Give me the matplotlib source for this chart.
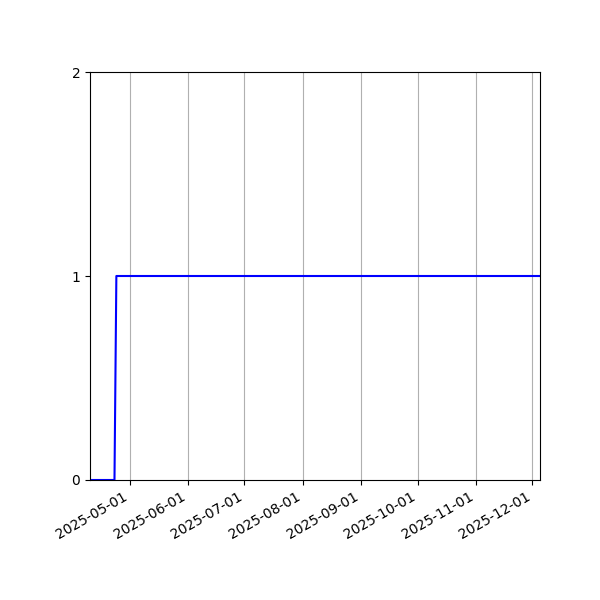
import matplotlib
matplotlib.use("Agg")
import matplotlib.pyplot as plt
import matplotlib.dates as mdates
import numpy as np

# valeurs
dates = np.array(["2025-04-10", "2025-04-23", "2025-04-24", "2025-12-05"], dtype="datetime64[D]")
values = [0, 0, 1, 1]
yticks = [0, 1, 2]

fig, ax = plt.subplots(figsize=(6, 6), dpi=100)
ax.plot(dates, values, color="blue", lw=1.5)
ax.set_xlim(dates[0], dates[-1])
ax.set_ylim(0, 2)
ax.set_yticks(yticks)
ax.xaxis.set_major_locator(mdates.MonthLocator())
ax.xaxis.set_major_formatter(mdates.DateFormatter("%Y-%m-%d"))
ax.grid(True, axis="x")
fig.autofmt_xdate()
fig.subplots_adjust(left=0.15, right=0.9, top=0.88, bottom=0.2)
fig.savefig("out.png", dpi=100)
